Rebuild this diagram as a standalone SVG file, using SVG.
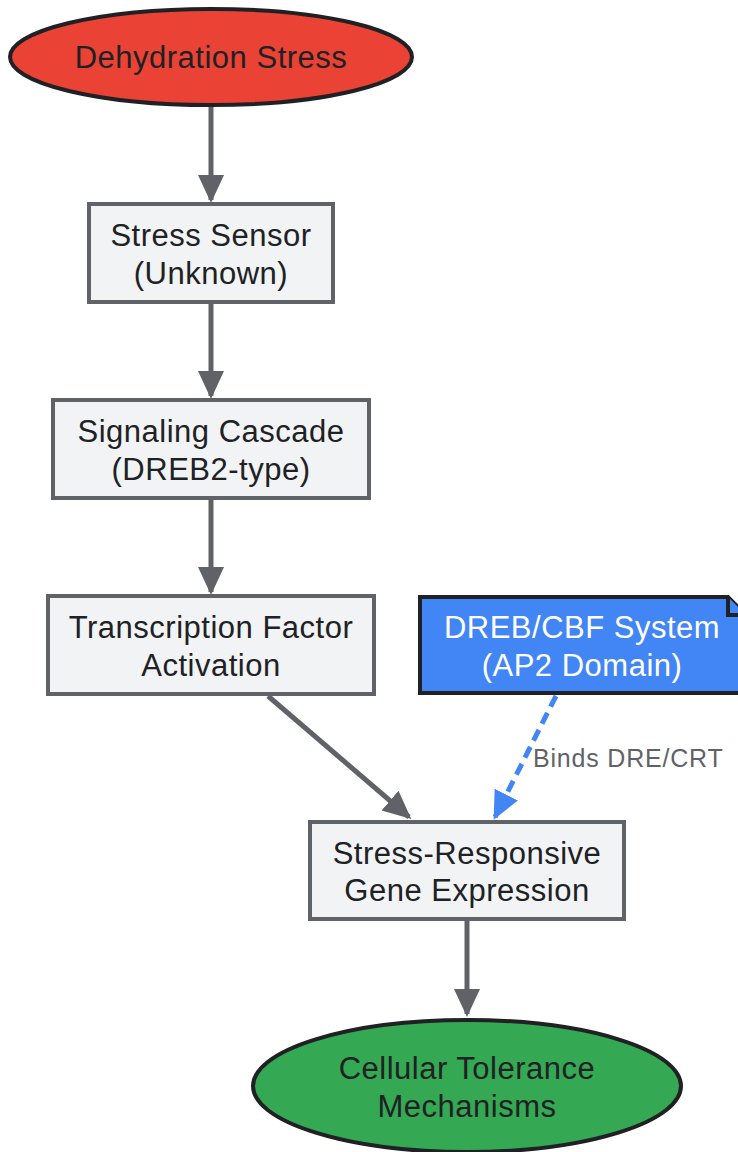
<svg xmlns="http://www.w3.org/2000/svg" width="738" height="1152" viewBox="0 0 738 1152">
<style>
.t{font-family:"Liberation Sans",Arial,sans-serif;font-size:31px;letter-spacing:0.5px;fill:#202124;text-anchor:middle}
.w{fill:#ffffff}
.box{fill:#F1F3F4;stroke:#5F6368;stroke-width:4}
.ell{stroke:#202124;stroke-width:4}
.e{stroke:#5F6368;stroke-width:5;fill:none}
.lbl{font-family:"Liberation Sans",Arial,sans-serif;font-size:25px;letter-spacing:0.8px;fill:#5F6368}
</style>
<defs>
<marker id="ag" markerWidth="6" markerHeight="6" refX="5" refY="3" orient="auto" markerUnits="strokeWidth"><path d="M0,0.4 L5.6,3 L0,5.6 z" fill="#5F6368"/></marker>
<marker id="ab" markerWidth="6" markerHeight="6" refX="5" refY="3" orient="auto" markerUnits="strokeWidth"><path d="M0,0.4 L5.6,3 L0,5.6 z" fill="#4285F4"/></marker>
</defs>
<g id="connectors">
<line class="e" x1="211" y1="106" x2="211" y2="200" marker-end="url(#ag)"/>
<line class="e" x1="211" y1="303" x2="211" y2="396" marker-end="url(#ag)"/>
<line class="e" x1="211" y1="499" x2="211" y2="592" marker-end="url(#ag)"/>
<line class="e" x1="268" y1="696" x2="409" y2="817" marker-end="url(#ag)"/>
<line x1="556" y1="696" x2="495" y2="817" stroke="#4285F4" stroke-width="5" stroke-dasharray="12,7" marker-end="url(#ab)"/>
<line class="e" x1="467" y1="920" x2="467" y2="1014" marker-end="url(#ag)"/>
<text class="lbl" x="533" y="767">Binds DRE/CRT</text>
</g>
<g id="n1"><ellipse class="ell" cx="211" cy="57" rx="201" ry="48" fill="#EA4335"/><text class="t" x="211" y="68">Dehydration Stress</text></g>
<g id="n2"><rect class="box" x="89" y="204" width="244" height="98"/><text class="t" x="211" y="246">Stress Sensor</text><text class="t" x="211" y="284">(Unknown)</text></g>
<g id="n3"><rect class="box" x="53" y="400" width="316" height="98"/><text class="t" x="211" y="442">Signaling Cascade</text><text class="t" x="211" y="480">(DREB2-type)</text></g>
<g id="n4"><rect class="box" x="48" y="596" width="326" height="98"/><text class="t" x="211" y="638">Transcription Factor</text><text class="t" x="211" y="676">Activation</text></g>
<g id="n5"><path d="M420,597 L728,597 L746,615 L746,693 L420,693 Z" fill="#4285F4" stroke="#202124" stroke-width="4"/><path d="M728,597 L728,615 L746,615" fill="#4285F4" stroke="#202124" stroke-width="4"/><text class="t w" x="582" y="638">DREB/CBF System</text><text class="t w" x="582" y="676">(AP2 Domain)</text></g>
<g id="n6"><rect class="box" x="310" y="822" width="314" height="97"/><text class="t" x="467" y="864">Stress-Responsive</text><text class="t" x="467" y="901">Gene Expression</text></g>
<g id="n7"><ellipse class="ell" cx="467" cy="1086" rx="214" ry="66" fill="#34A853"/><text class="t" x="467" y="1079">Cellular Tolerance</text><text class="t" x="467" y="1117">Mechanisms</text></g>
</svg>
